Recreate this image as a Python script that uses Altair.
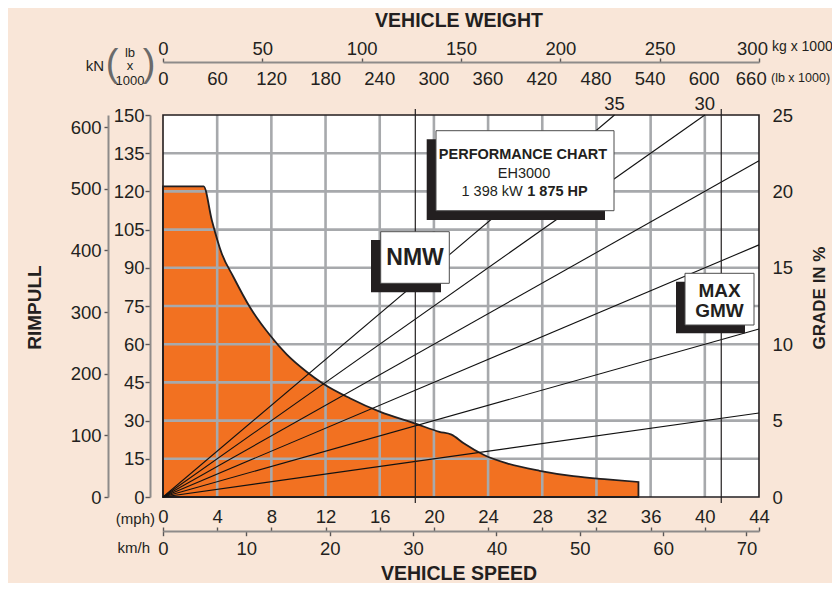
import altair as alt
import pandas as pd

# ---------------- data ----------------
speed_mph = [0, 3.0, 3.6, 4.33, 5.19, 6.42, 7.9, 9.13, 10.6, 11.8, 13.8, 16.0,
             18.7, 20.4, 21.3, 22.2, 23.7, 25.4, 27.8, 30.3, 32.8, 35.1]
rimpull_klb = [122, 122, 108.8, 95.7, 86.5, 74.5, 63.5, 56.0, 49.2, 44.6, 38.8, 33.5,
               28.7, 25.6, 24.5, 21.1, 16.5, 13.2, 10.3, 8.2, 6.9, 5.9]

# value (on the grade % scale) that each resistance line reaches at the right edge
grade_line_pct = [5.5, 11.0, 16.5, 22.0, 27.5, 33.0]
grade_line_labels = ["", "", "", "", "30", "35"]

weight_lines_t = [127, 281]          # NMW, MAX GMW (kg x 1000)

mph_ticks = list(range(0, 45, 4))
kmh_ticks = list(range(0, 71, 10))
kg_ticks = list(range(0, 301, 50))
lb_ticks = list(range(0, 661, 60))
klb_ticks = list(range(0, 151, 15))
kn_ticks = list(range(0, 601, 100))
grade_ticks = list(range(0, 26, 5))
grid_mph = list(range(4, 44, 4))
grid_klb = list(range(15, 150, 15))

# ---------------- styling ----------------
W, H = 596, 382
FONT = "Liberation Sans"
BG = "#F9E6D8"
ORANGE = "#F27121"
GRID = "#A7A9AC"
INK = "#231F20"
AXC = "#8E8B8A"
TICK = "#5A5657"

MPH = alt.Scale(domain=[0, 44], nice=False, zero=False)
KLB = alt.Scale(domain=[0, 150], nice=False, zero=False)
KMH = alt.Scale(domain=[0, 71.5], nice=False, zero=False)
KG = alt.Scale(domain=[0, 300], nice=False, zero=False)
LB = alt.Scale(domain=[0, 661.4], nice=False, zero=False)
KN = alt.Scale(domain=[0, 619.5], nice=False, zero=False)
GRADE = alt.Scale(domain=[0, 25], nice=False, zero=False)

curve = pd.DataFrame({"mph": speed_mph, "klb": rimpull_klb})

KLB_PER_PCT = 150 / 25
rows = []
for g, lab in zip(grade_line_pct, grade_line_labels):
    y_end = g * KLB_PER_PCT
    if y_end > 150:
        rows.append(dict(x0=0, y0=0, xe=44 * 150 / y_end, ye=150, label=lab))
    else:
        rows.append(dict(x0=0, y0=0, xe=44, ye=y_end, label=lab))
glines = pd.DataFrame(rows)

one = pd.DataFrame({"a": [0]})

# ---------------- main plot ----------------
area = alt.Chart(curve).mark_area(fill=ORANGE, opacity=1, interpolate="monotone").encode(
    x=alt.X("mph:Q", scale=MPH, axis=None),
    y=alt.Y("klb:Q", scale=KLB, axis=None))
gx = alt.Chart(pd.DataFrame({"mph": grid_mph})).mark_rule(color=GRID, strokeWidth=2.6).encode(
    x=alt.X("mph:Q", scale=MPH, axis=None))
gy = alt.Chart(pd.DataFrame({"klb": grid_klb})).mark_rule(color=GRID, strokeWidth=2.6).encode(
    y=alt.Y("klb:Q", scale=KLB, axis=None))
outline = alt.Chart(curve).mark_area(fillOpacity=0, stroke=INK, strokeWidth=1.8,
                                     interpolate="monotone").encode(
    x=alt.X("mph:Q", scale=MPH, axis=None),
    y=alt.Y("klb:Q", scale=KLB, axis=None))
border = alt.Chart(one).mark_rect(filled=False, stroke=INK, strokeWidth=1.6).encode(
    x=alt.value(0), x2=alt.value(W), y=alt.value(0), y2=alt.value(H))
diag = alt.Chart(glines).mark_rule(color="#111111", strokeWidth=1.1).encode(
    x=alt.X("x0:Q", scale=MPH, axis=None), x2="xe:Q",
    y=alt.Y("y0:Q", scale=KLB, axis=None), y2="ye:Q")
diag_lab = alt.Chart(glines).transform_filter("datum.label != ''").mark_text(
    dy=-11, fontSize=18.5, color=INK, font=FONT).encode(
    x=alt.X("xe:Q", scale=MPH, axis=None),
    y=alt.Y("ye:Q", scale=KLB, axis=None),
    text="label:N")
main = alt.layer(area, gx, gy, outline, border, diag, diag_lab)

# vertical weight lines + kg axis (top)
wlines = alt.Chart(pd.DataFrame({"t": weight_lines_t})).mark_rule(color=INK, strokeWidth=1.2).encode(
    x=alt.X("t:Q", scale=KG, axis=alt.Axis(
        orient="top", offset=53, values=kg_ticks, tickSize=4, labelPadding=0, format="d", title=None,
        labelOffset={"condition": {"test": "datum.value === 300", "value": -7}, "value": 0})),
    y=alt.value(-6), y2=alt.value(H + 6))


def xaxis_layer(vals, scale, axis):
    return alt.Chart(pd.DataFrame({"v": vals})).mark_rule(opacity=0).encode(
        x=alt.X("v:Q", scale=scale, axis=axis))


def yaxis_layer(vals, scale, axis):
    return alt.Chart(pd.DataFrame({"v": vals})).mark_rule(opacity=0).encode(
        y=alt.Y("v:Q", scale=scale, axis=axis))


lb_axis = xaxis_layer(lb_ticks, LB, alt.Axis(
    orient="bottom", offset=-(H + 53.3), values=lb_ticks, ticks=False, tickSize=0, domain=False,
    labelPadding=8, format="d", title=None,
    labelOffset={"condition": {"test": "datum.value === 660", "value": -7}, "value": 0}))
mph_axis = xaxis_layer(mph_ticks, MPH, alt.Axis(orient="top", offset=-(H + 34), values=mph_ticks,
                                                tickSize=4, domain=False, labelPadding=1,
                                                format="d", title=None))
kmh_axis = xaxis_layer(kmh_ticks, KMH, alt.Axis(orient="bottom", offset=34, values=kmh_ticks,
                                                tickSize=4.7, labelPadding=4, format="d", title=None))
klb_axis = yaxis_layer(klb_ticks, KLB, alt.Axis(orient="left", offset=13, values=klb_ticks,
                                                tickSize=5, labelPadding=1, format="d", title=None))
kn_axis = yaxis_layer(kn_ticks, KN, alt.Axis(orient="left", offset=55, values=kn_ticks,
                                             tickSize=4, labelPadding=3, format="d", title=None))
grade_axis = yaxis_layer(grade_ticks, GRADE, alt.Axis(orient="right", offset=0, values=grade_ticks,
                                                      ticks=False, tickSize=0, domain=False,
                                                      labelPadding=13, format="d", title=None))


# ---------------- annotations ----------------
def txt(s, x, y, size, bold=False, align="center", angle=0, color=INK):
    return alt.Chart(one).mark_text(text=s, fontSize=size, fontWeight="bold" if bold else "normal",
                                    align=align, baseline="middle", angle=angle, color=color,
                                    font=FONT).encode(x=alt.value(x), y=alt.value(y))


def box(x1, y1, x2, y2, fill, stroke=None):
    if stroke:
        m = alt.Chart(one).mark_rect(fill=fill, stroke=stroke, strokeWidth=1)
    else:
        m = alt.Chart(one).mark_rect(fill=fill)
    return m.encode(x=alt.value(x1), x2=alt.value(x2), y=alt.value(y1), y2=alt.value(y2))


annot = alt.layer(
    # performance chart box
    box(263.7, 24.3, 442, 105, INK),
    box(273, 15.7, 451, 95.7, "white", "#4D4D4D"),
    txt("PERFORMANCE CHART", 360, 39.5, 14.5, bold=True),
    txt("EH3000", 361, 58.5, 14.5),
    txt("1 398 kW", 298.5, 77, 14.5, align="left"),
    txt("1 875 HP", 424.7, 77, 14.5, bold=True, align="right"),
    # NMW box
    box(208, 125, 278, 177.3, INK),
    box(217.7, 116.7, 286.3, 168.3, "white", "#4D4D4D"),
    txt("NMW", 252, 143, 23, bold=True),
    # MAX GMW box
    box(513, 166.7, 582, 218.3, INK),
    box(522, 158.3, 591, 210, "white", "#4D4D4D"),
    txt("MAX", 556.5, 175.5, 19, bold=True),
    txt("GMW", 556.5, 195.5, 19, bold=True),
    # titles
    txt("VEHICLE WEIGHT", 296, -94, 19.5, bold=True),
    txt("VEHICLE SPEED", 296, 458.5, 19.5, bold=True),
    txt("RIMPULL", -128, 192.5, 19, bold=True, angle=270),
    txt("GRADE IN %", 657, 183, 17, bold=True, angle=270),
    # unit labels
    txt("kN", -68, -49, 15),
    txt("(", -51, -50, 38, color="#6A6A6A"),
    txt("lb", -33, -62.5, 13),
    txt("x", -33, -49, 13),
    txt("1000", -33, -34.5, 13),
    txt(")", -14, -50, 38, color="#6A6A6A"),
    txt("kg x 1000", 609, -68.3, 14, align="left"),
    txt("(lb x 1000)", 608, -36.7, 12.5, align="left"),
    txt("(mph)", -8, 404, 15, align="right"),
    txt("km/h", -13, 432.5, 15, align="right"),
)

chart = alt.layer(
    main, wlines, lb_axis, mph_axis, kmh_axis, klb_axis, kn_axis, grade_axis, annot
).resolve_scale(
    x="independent", y="independent"
).properties(
    width=W, height=H,
    padding={"left": 155, "top": 107, "right": 73, "bottom": 86},
    autosize=alt.AutoSizeParams(type="none"),
    background=BG,
).configure(
    font=FONT
).configure_view(
    fill="white", stroke="transparent"
).configure_axis(
    labelFont=FONT, labelFontSize=18.5, labelColor=INK, tickColor=TICK, tickWidth=1.4,
    domainColor=AXC, domainWidth=2, grid=False, labelFlush=False, labelOverlap=False
)

chart.save("out.html", embed_options={"renderer": "svg", "actions": False})
